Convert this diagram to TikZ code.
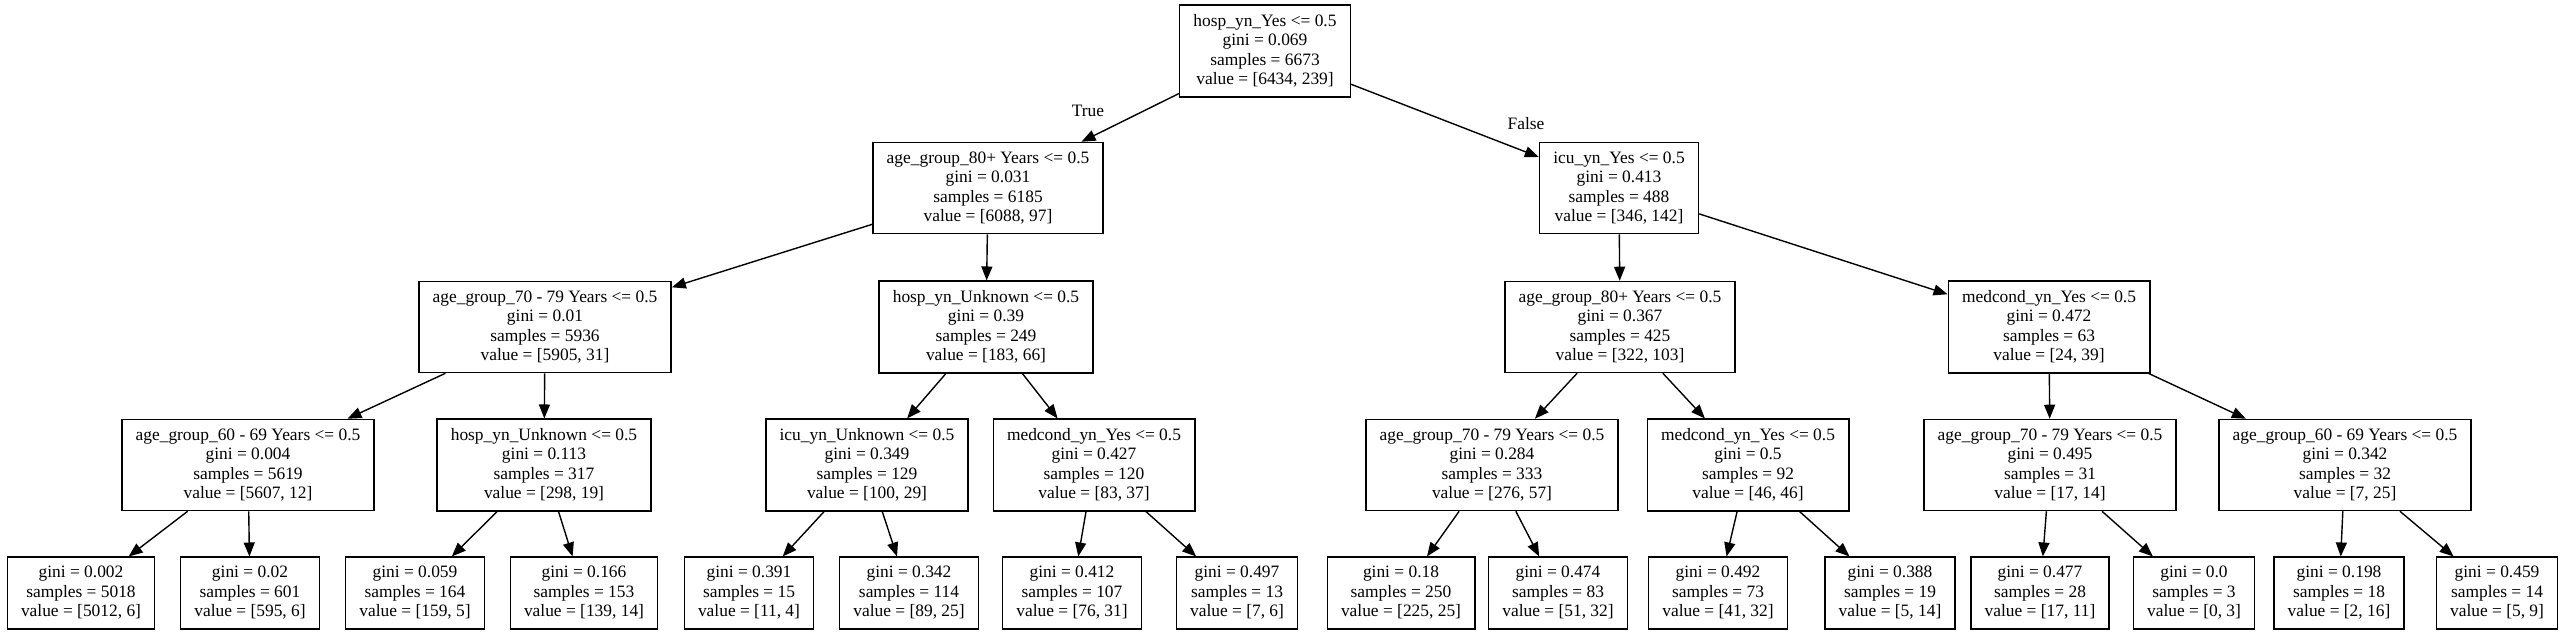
\documentclass[tikz,border=0pt]{standalone}
\usepackage{fontspec}
\setmainfont{Liberation Serif}
\usetikzlibrary{arrows.meta}
\begin{document}
\begin{tikzpicture}[x=0.5pt, y=-0.5pt,
    every node/.style={rectangle, draw, line width=0.7pt, align=center,
      inner xsep=6.9pt, inner ysep=4.6pt,
      font=\fontsize{8.7}{9.75}\selectfont},
    every path/.style={line width=0.7pt},
    split/.style={-{Triangle[length=7pt, width=5.5pt]}}]
  \useasboundingbox (0,0) rectangle (2564,636);
  % Root
  \node (0) at (1265,51) {hosp\_yn\_Yes <= 0.5\\gini = 0.069\\samples = 6673\\value = [6434, 239]};
  % Depth 1
  \node (1) at (988,188) {age\_group\_80+ Years <= 0.5\\gini = 0.031\\samples = 6185\\value = [6088, 97]};
  \node (16) at (1619,188) {icu\_yn\_Yes <= 0.5\\gini = 0.413\\samples = 488\\value = [346, 142]};
  % Depth 2
  \node (2) at (545,327) {age\_group\_70 - 79 Years <= 0.5\\gini = 0.01\\samples = 5936\\value = [5905, 31]};
  \node (9) at (986,327) {hosp\_yn\_Unknown <= 0.5\\gini = 0.39\\samples = 249\\value = [183, 66]};
  \node (17) at (1620,327) {age\_group\_80+ Years <= 0.5\\gini = 0.367\\samples = 425\\value = [322, 103]};
  \node (24) at (2049,327) {medcond\_yn\_Yes <= 0.5\\gini = 0.472\\samples = 63\\value = [24, 39]};
  % Depth 3
  \node (3) at (248,465) {age\_group\_60 - 69 Years <= 0.5\\gini = 0.004\\samples = 5619\\value = [5607, 12]};
  \node (6) at (544,465) {hosp\_yn\_Unknown <= 0.5\\gini = 0.113\\samples = 317\\value = [298, 19]};
  \node (10) at (867,465) {icu\_yn\_Unknown <= 0.5\\gini = 0.349\\samples = 129\\value = [100, 29]};
  \node (13) at (1094,465) {medcond\_yn\_Yes <= 0.5\\gini = 0.427\\samples = 120\\value = [83, 37]};
  \node (18) at (1492,465) {age\_group\_70 - 79 Years <= 0.5\\gini = 0.284\\samples = 333\\value = [276, 57]};
  \node (21) at (1748,465) {medcond\_yn\_Yes <= 0.5\\gini = 0.5\\samples = 92\\value = [46, 46]};
  \node (25) at (2050,465) {age\_group\_70 - 79 Years <= 0.5\\gini = 0.495\\samples = 31\\value = [17, 14]};
  \node (28) at (2345,465) {age\_group\_60 - 69 Years <= 0.5\\gini = 0.342\\samples = 32\\value = [7, 25]};
  % Leaves
  \node (4) at (81,593) {gini = 0.002\\samples = 5018\\value = [5012, 6]};
  \node (5) at (250,593) {gini = 0.02\\samples = 601\\value = [595, 6]};
  \node (7) at (415,593) {gini = 0.059\\samples = 164\\value = [159, 5]};
  \node (8) at (584,593) {gini = 0.166\\samples = 153\\value = [139, 14]};
  \node (11) at (749,593) {gini = 0.391\\samples = 15\\value = [11, 4]};
  \node (12) at (909,593) {gini = 0.342\\samples = 114\\value = [89, 25]};
  \node (14) at (1072,593) {gini = 0.412\\samples = 107\\value = [76, 31]};
  \node (15) at (1237,593) {gini = 0.497\\samples = 13\\value = [7, 6]};
  \node (19) at (1401,593) {gini = 0.18\\samples = 250\\value = [225, 25]};
  \node (20) at (1558,593) {gini = 0.474\\samples = 83\\value = [51, 32]};
  \node (22) at (1718,593) {gini = 0.492\\samples = 73\\value = [41, 32]};
  \node (23) at (1890,593) {gini = 0.388\\samples = 19\\value = [5, 14]};
  \node (26) at (2040,593) {gini = 0.477\\samples = 28\\value = [17, 11]};
  \node (27) at (2194,593) {gini = 0.0\\samples = 3\\value = [0, 3]};
  \node (29) at (2339,593) {gini = 0.198\\samples = 18\\value = [2, 16]};
  \node (30) at (2497,593) {gini = 0.459\\samples = 14\\value = [5, 9]};
  % Split edges
  \draw[split] (0) -- (1);
  \draw[split] (0) -- (16);
  \draw[split] (1) -- (2);
  \draw[split] (1) -- (9);
  \draw[split] (2) -- (3);
  \draw[split] (2) -- (6);
  \draw[split] (3) -- (4);
  \draw[split] (3) -- (5);
  \draw[split] (6) -- (7);
  \draw[split] (6) -- (8);
  \draw[split] (9) -- (10);
  \draw[split] (9) -- (13);
  \draw[split] (10) -- (11);
  \draw[split] (10) -- (12);
  \draw[split] (13) -- (14);
  \draw[split] (13) -- (15);
  \draw[split] (16) -- (17);
  \draw[split] (16) -- (24);
  \draw[split] (17) -- (18);
  \draw[split] (17) -- (21);
  \draw[split] (18) -- (19);
  \draw[split] (18) -- (20);
  \draw[split] (21) -- (22);
  \draw[split] (21) -- (23);
  \draw[split] (24) -- (25);
  \draw[split] (24) -- (28);
  \draw[split] (25) -- (26);
  \draw[split] (25) -- (27);
  \draw[split] (28) -- (29);
  \draw[split] (28) -- (30);
  % Branch labels
  \node[draw=none] (true) at (1088,111) {True};
  \node[draw=none] (false) at (1526,124) {False};
\end{tikzpicture}
\end{document}
